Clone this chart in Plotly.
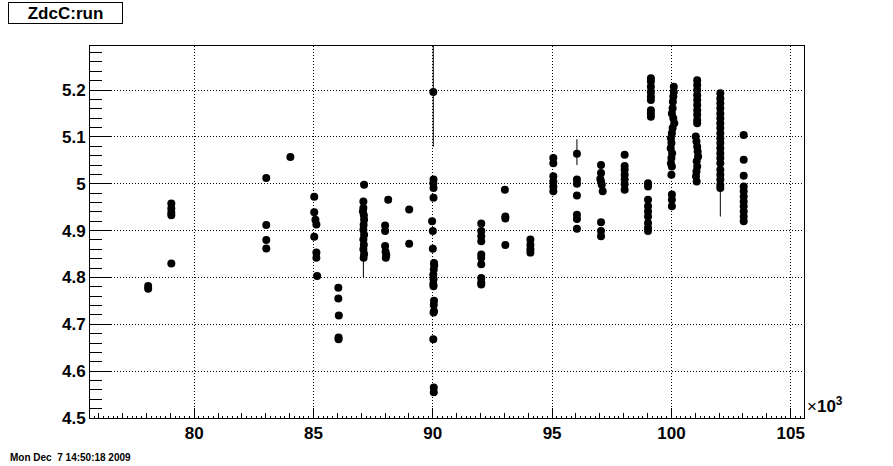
import plotly.graph_objects as go

# run number (in units of 10^3) and ZdcC value
run_k = [
    78.07, 78.07,
    79.04, 79.04, 79.04, 79.04, 79.04,
    83.02, 83.02, 83.02, 83.02,
    84.03,
    85.03, 85.03, 85.08, 85.12, 85.03, 85.12, 85.12, 85.15,
    86.04, 86.04, 86.06, 86.05, 86.05,
    87.12, 87.09, 87.09, 87.07, 87.11, 87.12, 87.10, 87.09, 87.12, 87.09, 87.11, 87.09, 87.12, 87.10,
    88.13, 88.00, 88.00, 88.00, 88.02, 88.05, 88.03,
    89.01, 89.01,
    90.02, 90.03, 90.02, 90.03, 90.03, 89.97, 90.00, 90.00, 90.05, 90.06, 90.04, 90.02, 90.03, 90.02,
    90.03, 90.05, 90.04, 90.05, 90.03, 90.02, 90.04, 90.04,
    92.03, 92.03, 92.03, 92.03, 92.03, 92.03, 92.03, 92.03, 92.03, 92.03,
    93.02, 93.04, 93.04, 93.04,
    94.09, 94.09, 94.09, 94.09,
    95.05, 95.05, 95.05, 95.05, 95.05, 95.05,
    96.04, 96.04, 96.04, 96.04, 96.04, 96.04, 96.04,
    97.05, 97.05, 97.02, 97.05, 97.08, 97.12, 97.05, 97.05, 97.05,
    98.04, 98.04, 98.04, 98.04, 98.04, 98.04, 98.04,
    99.14, 99.14, 99.14, 99.14, 99.14, 99.14, 99.14, 99.14, 99.14,
    99.02, 99.02, 99.02, 99.02, 99.02, 99.02, 99.02, 99.02, 99.02,
    100.10, 100.10, 100.08, 100.06, 100.05, 100.02, 100.08, 100.12, 100.05, 100.02,
    99.98, 100.00, 99.97, 100.03, 100.00, 99.98, 100.02, 100.00,
    100.02, 100.02, 100.02,
    101.08, 101.08, 101.08, 101.08, 101.08, 101.08, 101.08, 101.08, 101.08, 101.08,
    101.02, 101.05, 101.08, 101.10, 101.12, 101.06, 101.08, 101.05, 101.03, 101.06,
    102.05, 102.05, 102.05, 102.05, 102.05, 102.05, 102.05, 102.05, 102.05, 102.05,
    102.05, 102.05, 102.05, 102.05, 102.05, 102.05, 102.05, 102.05, 102.05, 102.05,
    103.03, 103.03, 103.03, 103.03, 103.03, 103.03, 103.03, 103.03, 103.03, 103.03, 103.03,
]

zdc_c = [
    4.782, 4.776,
    4.958, 4.947, 4.938, 4.933, 4.830,
    5.012, 4.912, 4.880, 4.862,
    5.057,
    4.972, 4.939, 4.923, 4.913, 4.887, 4.853, 4.842, 4.803,
    4.778, 4.755, 4.719, 4.672, 4.668,
    4.998, 4.962, 4.948, 4.941, 4.933, 4.923, 4.912, 4.902, 4.891, 4.881, 4.870, 4.860, 4.850, 4.842,
    4.966, 4.911, 4.899, 4.867, 4.855, 4.848, 4.842,
    4.945, 4.872,
    5.196, 5.009, 5.001, 4.991, 4.970, 4.920, 4.899, 4.861, 4.831, 4.826, 4.817, 4.806, 4.796, 4.786,
    4.781, 4.750, 4.741, 4.728, 4.725, 4.668, 4.565, 4.555,
    4.915, 4.899, 4.888, 4.877, 4.849, 4.842, 4.828, 4.799, 4.789, 4.785,
    4.987, 4.930, 4.926, 4.869,
    4.881, 4.870, 4.860, 4.853,
    5.055, 5.044, 5.016, 5.005, 4.994, 4.984,
    5.064, 5.009, 5.000, 4.975, 4.934, 4.925, 4.904,
    5.040, 5.023, 5.010, 5.005, 4.998, 4.984, 4.918, 4.899, 4.888,
    5.062, 5.038, 5.030, 5.019, 5.009, 4.999, 4.987,
    5.225, 5.218, 5.207, 5.196, 5.186, 5.179, 5.157, 5.150, 5.143,
    5.001, 4.994, 4.966, 4.952, 4.941, 4.930, 4.916, 4.906, 4.899,
    5.207, 5.196, 5.186, 5.175, 5.161, 5.150, 5.140, 5.129, 5.119, 5.108,
    5.097, 5.087, 5.076, 5.065, 5.055, 5.044, 5.037, 5.019,
    4.977, 4.966, 4.952,
    5.221, 5.211, 5.200, 5.189, 5.179, 5.168, 5.157, 5.147, 5.136, 5.129,
    5.101, 5.090, 5.079, 5.069, 5.058, 5.048, 5.037, 5.026, 5.016, 5.005,
    5.193, 5.182, 5.172, 5.161, 5.150, 5.140, 5.129, 5.119, 5.108, 5.097,
    5.087, 5.076, 5.065, 5.055, 5.044, 5.030, 5.019, 5.009, 4.998, 4.991,
    5.104, 5.051, 5.017, 4.994, 4.984, 4.973, 4.962, 4.952, 4.941, 4.930, 4.920,
]

# thin vertical segments seen in the picture
seg_run = [87.09, 90.02, 96.04, 102.05]
seg_low = [4.800, 5.079, 5.040, 4.930]
seg_high = [4.842, 5.400, 5.095, 4.991]

x_ticks = [80, 85, 90, 95, 100, 105]
y_ticks = [4.5, 4.6, 4.7, 4.8, 4.9, 5.0, 5.1, 5.2]
y_tick_text = ["4.5", "4.6", "4.7", "4.8", "4.9", "5", "5.1", "5.2"]

FONT = "Liberation Sans"

seg_x, seg_y = [], []
for sx, lo, hi in zip(seg_run, seg_low, seg_high):
    seg_x += [sx, sx, None]
    seg_y += [lo, hi, None]

fig = go.Figure()
fig.add_trace(go.Scatter(x=seg_x, y=seg_y, mode="lines",
                         line=dict(color="black", width=1), showlegend=False,
                         hoverinfo="skip"))
fig.add_trace(go.Scatter(x=run_k, y=zdc_c, mode="markers",
                         marker=dict(color="black", size=8, symbol="circle",
                                     line=dict(width=0)),
                         showlegend=False))
# invisible trace for fine tick axis
fig.add_trace(go.Scatter(x=[80], y=[4.6], xaxis="x2", mode="markers",
                         marker=dict(opacity=0), showlegend=False, hoverinfo="skip"))

X_RANGE = [75.632, 105.557]
Y_RANGE = [4.5, 5.294]
GRID_DASH = "1px,2px"

fig.update_layout(
    width=893, height=466,
    margin=dict(l=90, r=89, t=46, b=48),
    paper_bgcolor="white", plot_bgcolor="white",
    font=dict(family=FONT, color="black"),
    xaxis=dict(
        range=X_RANGE, tickmode="array", tickvals=x_ticks,
        ticktext=[f"<b>{v}</b>" for v in x_ticks],
        tickfont=dict(size=17, family=FONT, color="black"),
        ticks="inside", ticklen=10, tickwidth=1, tickcolor="black",
        showline=True, linecolor="black", linewidth=1, mirror=True,
        showgrid=True, gridcolor="black", griddash=GRID_DASH, gridwidth=1,
        zeroline=False,
        minor=dict(dtick=1, tick0=0, ticks="inside", ticklen=5,
                   tickcolor="black", tickwidth=1, showgrid=False),
    ),
    xaxis2=dict(
        range=X_RANGE, overlaying="x", anchor="y", side="bottom",
        tick0=0, dtick=0.2, ticks="inside", ticklen=2, tickcolor="black",
        tickwidth=1, showticklabels=False, showgrid=False, zeroline=False,
        showline=False,
    ),
    yaxis=dict(
        range=Y_RANGE, tickmode="array", tickvals=y_ticks,
        ticktext=[f"<b>{t}</b>" for t in y_tick_text],
        tickfont=dict(size=17, family=FONT, color="black"),
        ticks="inside", ticklen=21, tickwidth=1, tickcolor="black",
        showline=True, linecolor="black", linewidth=1, mirror=True,
        showgrid=True, gridcolor="black", griddash=GRID_DASH, gridwidth=1,
        zeroline=False,
        minor=dict(dtick=0.02, tick0=4.5, ticks="inside", ticklen=12,
                   tickcolor="black", tickwidth=1, showgrid=False),
    ),
    annotations=[
        dict(text="<b>ZdcC:run</b>", xref="paper", yref="paper",
             x=-0.0343, y=1.0875, xanchor="center", yanchor="middle",
             showarrow=False, font=dict(size=17, family=FONT, color="black"),
             bordercolor="black", borderwidth=1, borderpad=1,
             bgcolor="white", width=111, height=18),
        dict(text="×<b>10<sup>3</sup></b>", xref="paper", yref="paper",
             x=1.002, y=0.0, xanchor="left", yanchor="bottom",
             showarrow=False, font=dict(size=17, family=FONT, color="black")),
        dict(text="<b>Mon Dec  7 14:50:18 2009</b>", xref="paper", yref="paper",
             x=-0.1148, y=-0.105, xanchor="left", yanchor="middle",
             showarrow=False, font=dict(size=10, family=FONT, color="black")),
    ],
)

fig.write_html("out.html",
               config={"displayModeBar": False},
               post_script="document.body.style.margin='0';document.body.style.padding='0';")
